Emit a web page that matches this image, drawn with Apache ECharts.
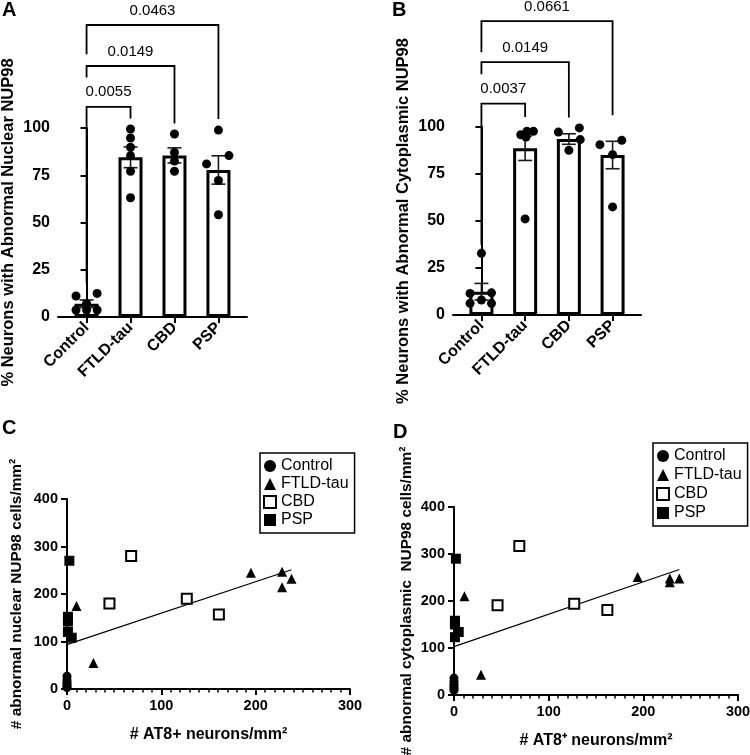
<!DOCTYPE html>
<html>
<head>
<meta charset="utf-8">
<script src="https://cdn.jsdelivr.net/npm/echarts@6/dist/echarts.min.js"></script>
<style>
  html, body { margin: 0; padding: 0; background: #fff; }
  #chart { width: 750px; height: 755px; }
</style>
</head>
<body>
<div id="chart"></div>
<script>
const groups = ['Control', 'FTLD-tau', 'CBD', 'PSP']

// panel A - nuclear NUP98 (%)
const nucMean = [7, 84.5, 85.5, 77.8]
const nucSem = [2, 5.5, 4, 7.5]
const nucPoints = [
  [-0.24, 11.1], [0.24, 12.5], [0, 7.2], [-0.24, 3.7], [0, 3.7], [0.24, 3.7],
  [1, 99.5], [1, 94.7], [1, 89.8], [1, 85.4], [1, 77.1], [1, 63.1],
  [2, 96.8], [2, 87.1], [2, 82.5], [2, 77.1],
  [3, 98.9], [2.73, 81], [3.24, 85.4], [3, 72.2], [3, 54.1]
]
// [from, to, top, left end, right end]
const nucBrackets = [[0, 1, 111.2, 17.9, 105], [0, 2, 132.8, 126.7, 102.4], [0, 3, 154.5, 139, 104.7]]
const nucP = ['0.0055', '0.0149', '0.0463']

// panel B - cytoplasmic NUP98 (%)
const cytMean = [12.4, 88.7, 93.6, 85.1]
const cytSem = [4.4, 6.5, 2.8, 7.3]
const cytPoints = [
  [0, 32.8], [-0.26, 11.5], [0.23, 11.8], [0, 8], [-0.26, 6.2], [0.23, 6.2],
  [0.9, 100.9], [1.04, 97.7], [1.19, 97.7], [0.9, 95.9], [1.02, 94.7], [1, 51.1],
  [1.76, 97.3], [2.24, 99.5], [2.26, 93.3], [2, 87.6],
  [3, 100.9], [2.71, 90.6], [3.21, 92.9], [3, 85.3], [3, 57.5]
]
const cytBrackets = [[0, 1, 112.4, 37.2, 105.3], [0, 2, 134.5, 128, 105], [0, 3, 156.3, 139.8, 106.2]]
const cytP = ['0.0037', '0.0149', '0.0661']

// panel C - nuclear vs AT8
const ctrlC = [[0, 27], [0, 19], [0, 14], [0, 10], [0, 6], [0, 3]]
const ftldC = [[10, 175], [28, 55], [195, 245], [228, 247], [228, 214], [238, 232]]
const cbdC = [[68, 280], [45, 180], [127, 190], [161, 157]]
const pspC = [[2.5, 270], [1, 152], [1, 142], [1, 120], [5, 108]]
const fitC = [[0.6, 94], [238, 251]]

// panel D - cytoplasmic vs AT8
const ctrlD = [[0, 36], [0, 29], [0, 23], [0, 18], [0, 14], [0, 10]]
const ftldD = [[11, 210], [28.5, 43], [194, 251], [228, 248], [228, 240], [238, 248]]
const cbdD = [[69, 317], [46, 191], [127, 194], [162, 181]]
const pspD = [[2, 290], [1, 158], [1, 150], [5, 134], [1, 123]]
const fitD = [[0, 103], [238, 267]]

const font = 'Arial, "Liberation Sans", Helvetica, sans-serif'
const chart = echarts.init(document.getElementById('chart'))

const barX = (idx) => ({
  type: 'value', gridIndex: idx, min: -0.65, max: 3.65,
  axisLine: { show: true, lineStyle: { color: '#000', width: 2 } },
  axisTick: { show: true, customValues: [0, 1, 2, 3], length: 6, lineStyle: { color: '#000', width: 2 } },
  axisLabel: {
    customValues: [0, 1, 2, 3], formatter: (v) => groups[Math.round(v)],
    rotate: 45, margin: 8, color: '#000', fontWeight: 'bold', fontSize: 16, fontFamily: font
  },
  splitLine: { show: false }
})
const barY = (idx, name, gap) => ({
  type: 'value', gridIndex: idx, min: 0, max: 100, interval: 25,
  name: name, nameLocation: 'middle', nameGap: gap,
  nameTextStyle: { color: '#000', fontWeight: 'bold', fontSize: 16.5, fontFamily: font },
  axisLine: { show: true, lineStyle: { color: '#000', width: 2 } },
  axisTick: { show: true, length: 6, lineStyle: { color: '#000', width: 2 } },
  axisLabel: { margin: 8, color: '#000', fontWeight: 'bold', fontSize: 16, fontFamily: font },
  splitLine: { show: false }
})
const scatX = (idx, name) => ({
  type: 'value', gridIndex: idx, min: 0, max: 300, interval: 100,
  name: name, nameLocation: 'middle', nameGap: 38,
  nameTextStyle: { color: '#000', fontWeight: 'bold', fontSize: 16, fontFamily: font },
  axisLine: { show: true, lineStyle: { color: '#000', width: 2 } },
  axisTick: { show: true, length: 6, lineStyle: { color: '#000', width: 2 } },
  minorTick: { show: true, splitNumber: 10, length: 3.5, lineStyle: { color: '#000', width: 1.5 } },
  axisLabel: { margin: 9, color: '#000', fontWeight: 'bold', fontSize: 14.5, fontFamily: font },
  splitLine: { show: false }
})
const scatY = (idx, name, gap) => ({
  type: 'value', gridIndex: idx, min: 0, max: 400, interval: 100,
  name: name, nameLocation: 'middle', nameGap: gap,
  nameTextStyle: { color: '#000', fontWeight: 'bold', fontSize: 15.4, fontFamily: font },
  axisLine: { show: true, lineStyle: { color: '#000', width: 2 } },
  axisTick: { show: true, length: 6, lineStyle: { color: '#000', width: 2 } },
  axisLabel: { margin: 9, color: '#000', fontWeight: 'bold', fontSize: 14.5, fontFamily: font },
  splitLine: { show: false }
})

const errData = (mean, sem) => mean.map((m, i) => [i, m - sem[i], m + sem[i]])

function renderErr(params, api) {
  const x = api.value(0)
  const lo = api.coord([x, api.value(1)])
  const hi = api.coord([x, api.value(2)])
  const st = { stroke: '#1a1a1a', lineWidth: 1.6 }
  return {
    type: 'group', children: [
      { type: 'line', shape: { x1: hi[0], y1: hi[1], x2: lo[0], y2: lo[1] }, style: st },
      { type: 'line', shape: { x1: hi[0] - 7, y1: hi[1], x2: hi[0] + 7, y2: hi[1] }, style: st },
      { type: 'line', shape: { x1: lo[0] - 7, y1: lo[1], x2: lo[0] + 7, y2: lo[1] }, style: st }
    ]
  }
}

const bracketRenderer = (labels) => (params, api) => {
  const x1 = api.value(0), x2 = api.value(1), top = api.value(2)
  const a = api.coord([x1, api.value(3)])
  const b = api.coord([x1, top])
  const c = api.coord([x2, top])
  const d = api.coord([x2, api.value(4)])
  return {
    type: 'group', children: [
      { type: 'polyline', shape: { points: [a, b, c, d] }, style: { stroke: '#000', lineWidth: 1.8, fill: null } },
      {
        type: 'text', x: (b[0] + c[0]) / 2, y: b[1] - 7,
        style: { text: labels[params.dataIndex], fill: '#000', fontSize: 15, fontFamily: font, align: 'center', verticalAlign: 'bottom' }
      }
    ]
  }
}

const dot = { color: '#000', opacity: 1 }

const barPanel = (idx, mean, sem, points, brackets, labels) => [
  {
    type: 'bar', xAxisIndex: idx, yAxisIndex: idx, barWidth: 24,
    data: mean.map((m, i) => [i, m]),
    itemStyle: { color: '#fff', borderColor: '#000', borderWidth: 3 }, z: 2
  },
  { type: 'custom', xAxisIndex: idx, yAxisIndex: idx, data: errData(mean, sem), renderItem: renderErr, z: 3 },
  {
    type: 'scatter', xAxisIndex: idx, yAxisIndex: idx, data: points,
    symbol: 'circle', symbolSize: 9, itemStyle: dot, z: 4
  },
  { type: 'custom', xAxisIndex: idx, yAxisIndex: idx, clip: false, data: brackets, renderItem: bracketRenderer(labels), z: 5 }
]

const scatPanel = (idx, ctrl, ftld, cbd, psp, fit) => [
  { name: 'Control', type: 'scatter', xAxisIndex: idx, yAxisIndex: idx, data: ctrl, symbol: 'circle', symbolSize: 9, itemStyle: dot, z: 4 },
  { name: 'FTLD-tau', type: 'scatter', xAxisIndex: idx, yAxisIndex: idx, data: ftld, symbol: 'triangle', symbolSize: 10, itemStyle: dot, z: 4 },
  { name: 'CBD', type: 'scatter', xAxisIndex: idx, yAxisIndex: idx, data: cbd, symbol: 'rect', symbolSize: 10, itemStyle: { color: '#fff', borderColor: '#000', borderWidth: 2, opacity: 1 }, z: 4 },
  { name: 'PSP', type: 'scatter', xAxisIndex: idx, yAxisIndex: idx, data: psp, symbol: 'rect', symbolSize: 10, itemStyle: dot, z: 4 },
  { name: 'fit' + idx, type: 'line', xAxisIndex: idx, yAxisIndex: idx, data: fit, showSymbol: false, lineStyle: { color: '#000', width: 1.2 }, z: 3 }
]

const legendBox = (left, top, gap) => ({
  data: groups, orient: 'vertical', left: left, top: top,
  itemWidth: 12, itemHeight: 12, itemGap: gap,
  padding: [5, 6, 5, 3], borderColor: '#000', borderWidth: 1.5, borderRadius: 0,
  textStyle: { color: '#000', fontSize: 16, fontFamily: font, lineHeight: 16 },
  selectedMode: false
})

const panelLabel = (text, left, top) => ({
  type: 'text', left: left, top: top,
  style: { text: text, fill: '#000', fontSize: 20, fontWeight: 'bold', fontFamily: font }
})

const option = {
  animation: false,
  backgroundColor: '#fff',
  textStyle: { fontFamily: font },
  grid: [
    { left: 58, top: 128, width: 189, height: 189, outerBoundsMode: 'none' },
    { left: 453, top: 127, width: 188, height: 188, outerBoundsMode: 'none' },
    { left: 67, top: 499, width: 283, height: 190, outerBoundsMode: 'none' },
    { left: 454, top: 507, width: 284, height: 188, outerBoundsMode: 'none' }
  ],
  xAxis: [
    barX(0), barX(1),
    scatX(2, '# AT8+ neurons/mm²'),
    scatX(3, '# AT8⁺ neurons/mm²')
  ],
  yAxis: [
    barY(0, '% Neurons with Abnormal Nuclear NUP98', 41),
    barY(1, '% Neurons with Abnormal Cytoplasmic NUP98', 41),
    scatY(2, '# abnormal nuclear NUP98 cells/mm²', 43),
    scatY(3, '# abnormal cytoplasmic  NUP98 cells/mm²', 40)
  ],
  legend: [legendBox(260, 453, 2), legendBox(653, 443, 3)],
  graphic: [
    panelLabel('A', 2, 0),
    panelLabel('B', 392, 0),
    panelLabel('C', 2, 418),
    panelLabel('D', 393, 422)
  ],
  series: [
    ...barPanel(0, nucMean, nucSem, nucPoints, nucBrackets, nucP),
    ...barPanel(1, cytMean, cytSem, cytPoints, cytBrackets, cytP),
    ...scatPanel(2, ctrlC, ftldC, cbdC, pspC, fitC),
    ...scatPanel(3, ctrlD, ftldD, cbdD, pspD, fitD)
  ]
}

chart.setOption(option)
</script>
</body>
</html>
